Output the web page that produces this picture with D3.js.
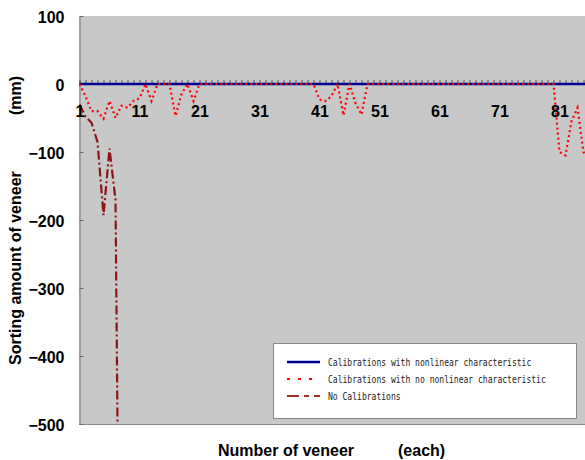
<!DOCTYPE html>
<html>
<head>
<meta charset="utf-8">
<script src="https://cdn.jsdelivr.net/npm/d3@7"></script>
<style>
  body { margin: 0; background: #fff; }
  svg { display: block; }
</style>
</head>
<body>
<script>
// categories (veneer number)
var categories = [];
for (var c = 1; c <= 90; c++) categories.push(c);

var xTickLabels = [1, 11, 21, 31, 41, 51, 61, 71, 81];
var yTickLabels = [100, 0, -100, -200, -300, -400, -500];

// series values (mm)
var withNonlinear = [
  0, 0, 0, 0, 0, 0, 0, 0, 0, 0,
  0, 0, 0, 0, 0, 0, 0, 0, 0, 0,
  0, 0, 0, 0, 0, 0, 0, 0, 0, 0,
  0, 0, 0, 0, 0, 0, 0, 0, 0, 0,
  0, 0, 0, 0, 0, 0, 0, 0, 0, 0,
  0, 0, 0, 0, 0, 0, 0, 0, 0, 0,
  0, 0, 0, 0, 0, 0, 0, 0, 0, 0,
  0, 0, 0, 0, 0, 0, 0, 0, 0, 0,
  0, 0, 0, 0, 0, 0, 0, 0, 0, 0
];

var noNonlinear = [
  0, -18, -40, -40, -51, -25, -50, -32, -35, -25,
  -21, 0, -25, 0, 0, 0, -47, -15, 0, -25,
  0, 0, 0, 0, 0, 0, 0, 0, 0, 0,
  0, 0, 0, 0, 0, 0, 0, 0, 0, 0,
  -23, -25, -18, 0, -46, 0, -28, -45, 0, 0,
  0, 0, 0, 0, 0, 0, 0, 0, 0, 0,
  0, 0, 0, 0, 0, 0, 0, 0, 0, 0,
  0, 0, 0, 0, 0, 0, 0, 0, 0, 0,
  -100, -105, -55, -35, -100, -110
];

var noCalibration = [-30, -48, -57, -85, -193, -95, -170, -1160];

var seriesNames = [
  "Calibrations with nonlinear characteristic",
  "Calibrations with no nonlinear characteristic",
  "No Calibrations"
];

var width = 585, height = 460;
var plotLeft = 79, plotTop = 16, plotBottom = 424, plotW = 620;

var svg = d3.select("body").append("svg")
    .attr("width", width)
    .attr("height", height);

var x = d3.scalePoint()
    .domain(categories)
    .range([plotLeft + 0.5, plotLeft + 0.5 + 6 * (categories.length - 1)]);

var y = d3.scaleLinear()
    .domain([-500, 100])
    .range([plotBottom, plotTop]);

// plot area
svg.append("rect")
    .attr("x", plotLeft)
    .attr("y", plotTop)
    .attr("width", plotW)
    .attr("height", plotBottom - plotTop)
    .style("fill", "#c8c8c8");

svg.append("line")
    .attr("x1", plotLeft).attr("x2", plotLeft + plotW)
    .attr("y1", plotBottom + 0.5).attr("y2", plotBottom + 0.5)
    .style("stroke", "#8a8a8a");

svg.append("clipPath").attr("id", "clip")
  .append("rect")
    .attr("x", plotLeft).attr("y", plotTop)
    .attr("width", plotW).attr("height", plotBottom - plotTop);

// y axis
var yAxis = svg.append("g")
    .attr("transform", "translate(" + (plotLeft + 0.5) + ",0)")
    .call(d3.axisLeft(y).tickValues(yTickLabels).tickSize(-4).tickPadding(15).tickSizeOuter(0));
yAxis.select(".domain").style("stroke", "#777");
yAxis.selectAll(".tick line").style("stroke", "#666");
yAxis.selectAll("text")
    .attr("dy", "0.4em")
    .style("font-family", "'Liberation Sans', Arial, sans-serif")
    .style("font-size", "16px")
    .style("font-weight", "bold")
    .style("fill", "#000");

// x axis: small ticks at every veneer
var xTicks = svg.append("g")
    .attr("transform", "translate(0," + y(0) + ")")
    .call(d3.axisBottom(x).tickValues(categories).tickSize(-4).tickSizeOuter(0).tickFormat(""));
xTicks.select(".domain").remove();
xTicks.selectAll(".tick line").style("stroke", "#555");

// series lines
var line = d3.line()
    .x(function(d, i) { return x(categories[i]); })
    .y(function(d) { return y(d); });

var plot = svg.append("g").attr("clip-path", "url(#clip)");

plot.append("path")
    .datum(withNonlinear)
    .attr("d", line)
    .style("fill", "none")
    .style("stroke", "#000090")
    .style("stroke-width", 2.5);

plot.append("path")
    .datum(noNonlinear)
    .attr("d", line)
    .style("fill", "none")
    .style("stroke", "#ff0000")
    .style("stroke-width", 2.2)
    .style("stroke-dasharray", "2,3");

plot.append("path")
    .datum(noCalibration)
    .attr("d", line)
    .style("fill", "none")
    .style("stroke", "#8e1515")
    .style("stroke-width", 2.2)
    .style("stroke-dasharray", "9,3,2,3");

// x axis labels
var xLabels = svg.append("g")
    .attr("transform", "translate(0," + y(0) + ")")
    .call(d3.axisBottom(x).tickValues(xTickLabels).tickSize(0).tickPadding(21.5));
xLabels.select(".domain").remove();
xLabels.selectAll("text")
    .style("font-family", "'Liberation Sans', Arial, sans-serif")
    .style("font-size", "16px")
    .style("font-weight", "bold")
    .style("fill", "#000");

// axis titles
var titleFont = "'Liberation Sans', Arial, sans-serif";

var xt = svg.append("text")
    .attr("x", 218)
    .attr("y", 456)
    .style("font-family", titleFont)
    .style("font-size", "16px")
    .style("font-weight", "bold");
xt.append("tspan").text("Number of veneer");
xt.append("tspan").attr("x", 398).text("(each)");

var yt = svg.append("text")
    .attr("transform", "translate(21,0) rotate(-90)")
    .style("font-family", titleFont)
    .style("font-size", "16px")
    .style("font-weight", "bold");
yt.append("tspan").attr("x", -365).text("Sorting amount of veneer");
yt.append("tspan").attr("x", -115).text("(mm)");

// legend
var legend = svg.append("g");
legend.append("rect")
    .attr("x", 273.5).attr("y", 343.5)
    .attr("width", 303).attr("height", 75)
    .style("fill", "#fff")
    .style("stroke", "#888");

var legendStyles = [
  { color: "#000090", dash: null, w: 2.5 },
  { color: "#ff0000", dash: "3,8", w: 2 },
  { color: "#a03030", dash: "12,5,5,5", w: 2 }
];

seriesNames.forEach(function(name, i) {
  var cy = 362 + i * 17;
  legend.append("line")
      .attr("x1", 287).attr("x2", 320)
      .attr("y1", cy).attr("y2", cy)
      .style("stroke", legendStyles[i].color)
      .style("stroke-width", legendStyles[i].w)
      .style("stroke-dasharray", legendStyles[i].dash);
  legend.append("text")
      .attr("x", 328)
      .attr("y", cy + 3.5)
      .attr("textLength", name.length * 4.84)
      .attr("lengthAdjust", "spacingAndGlyphs")
      .style("font-family", "'DejaVu Sans Mono', monospace")
      .style("font-size", "10px")
      .style("fill", "#222")
      .text(name);
});
</script>
</body>
</html>
